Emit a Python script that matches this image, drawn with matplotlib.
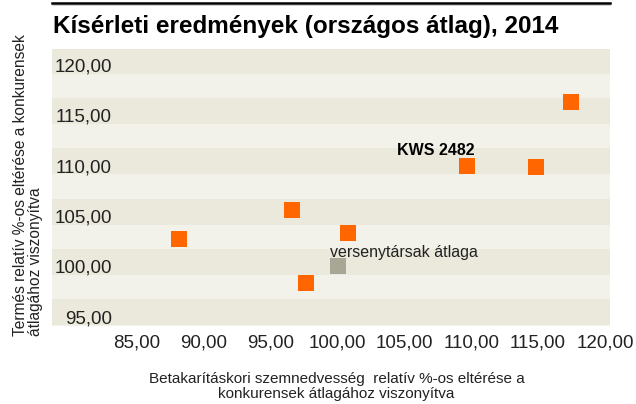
import numpy as np
import matplotlib
matplotlib.use("Agg")
import matplotlib.pyplot as plt
from matplotlib.ticker import FuncFormatter

# data
moisture = [117.5, 109.65, 114.88, 96.56, 100.82, 88.15, 97.61]   # x, % vs competitors
yield_rel = [116.38, 110.02, 109.92, 105.55, 103.36, 102.71, 98.39]  # y
avg_x, avg_y = [100.0], [100.0]
kws_x, kws_y = 109.65, 110.02

x_ticks = [85, 90, 95, 100, 105, 110, 115, 120]
y_ticks = [95, 100, 105, 110, 115, 120]

title = "Kísérleti eredmények (országos átlag), 2014"
xlab = "Betakarításkori szemnedvesség  relatív %-os eltérése a\nkonkurensek átlagához viszonyítva"
ylab = "Termés relatív %-os eltérése a konkurensek\nátlagához viszonyítva"

plt.rcParams['font.family'] = ['Liberation Sans', 'DejaVu Sans']

W, H = 636, 404
fig = plt.figure(figsize=(W / 100, H / 100), dpi=100)
ax = fig.add_axes([51.7 / W, 1 - 325.7 / H, (610 - 51.7) / W, (325.7 - 49) / H])

light = '#F3F2EA'
dark = '#EBE8DC'
orange = '#FF6600'
grey = '#A8A694'

ax.set_facecolor(light)
for t in y_ticks:
    ax.axhspan(t - 0.86, t + 1.72, color=dark, lw=0, zorder=0)

ax.scatter(moisture, yield_rel, marker='s', s=117, color=orange, lw=0, zorder=3)
ax.scatter(avg_x, avg_y, marker='s', s=117, color=grey, lw=0, zorder=3)

ax.annotate("KWS 2482", (kws_x, kws_y), xytext=(5.6, 10.6), textcoords='offset points',
            ha='right', va='center', fontsize=11.5, fontweight='bold')
ax.annotate("versenytársak átlaga", (avg_x[0], avg_y[0]), xytext=(-5.4, 10), textcoords='offset points',
            ha='left', va='center', fontsize=11.5, color='#222222')

ax.set_xlim(78.62, 120.38)
ax.set_ylim(94.1, 121.6)
fmt = FuncFormatter(lambda v, p: f"{v:.2f}".replace('.', ','))
ax.set_xticks(x_ticks)
ax.set_yticks(y_ticks)
ax.xaxis.set_major_formatter(fmt)
ax.yaxis.set_major_formatter(fmt)
ax.tick_params(axis='both', length=0, labelsize=13.5, labelcolor='#222222')
ax.tick_params(axis='y', pad=-43.5)
ax.tick_params(axis='x', pad=6)
for s in ax.spines.values():
    s.set_visible(False)

fig.text(52.7 / W, 1 - 32.7 / H, title, fontsize=17.5, fontweight='bold', va='baseline', ha='left')
fig.add_artist(plt.Line2D([51.7 / W, 610 / W], [1 - 2.8 / H, 1 - 2.8 / H], color='black', lw=1.8))
fig.add_artist(plt.Line2D([51.7 / W, 610 / W], [1 - 4.6 / H, 1 - 4.6 / H], color='#BBBBBB', lw=0.5))

fig.text(336.5 / W, 1 - 386.5 / H, xlab, ha='center', va='center', multialignment='center',
         fontsize=11, linespacing=1.1, color='#222222')
fig.text(28.5 / W, 1 - 335.7 / H, ylab, rotation=90, ha='center', va='bottom', multialignment='left',
         fontsize=11.2, linespacing=1.0, color='#222222')

fig.savefig("out.png", dpi=100)
